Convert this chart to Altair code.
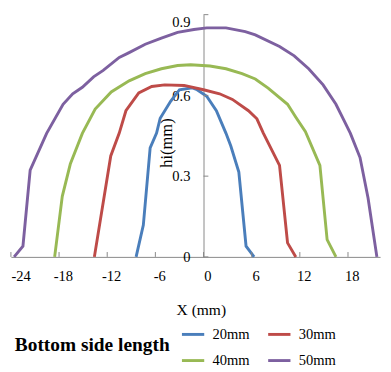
import altair as alt
import pandas as pd

# ---- data ----
series_names = ["20mm", "30mm", "40mm", "50mm"]
series_colors = ["#4A7EBB", "#BE4B48", "#98B954", "#7D60A0"]

x20 = [-8.4, -7.5, -6.65, -5.85, -5.4, -4.1, -3.0, -1.4, -0.8, 0.4, 1.6, 2.8, 3.4, 4.4, 5.3, 6.3]
y20 = [0, 0.118, 0.405, 0.46, 0.515, 0.578, 0.621, 0.628, 0.621, 0.597, 0.543, 0.459, 0.412, 0.315, 0.04, 0]

x30 = [-13.6, -11.56, -10.5, -9.67, -8.07, -6.45, -4.84, -2.42, 0, 2.0, 3.6, 5.6, 6.65, 7.45, 9.47, 10.47, 11.5]
y30 = [0, 0.375, 0.46, 0.543, 0.609, 0.633, 0.639, 0.637, 0.621, 0.606, 0.585, 0.543, 0.513, 0.46, 0.34, 0.052, 0]

x40 = [-18.55, -17.6, -16.6, -15.1, -13.5, -11.5, -9.27, -7.26, -5.25, -3.23, -1.6, 0.8, 2.8, 4.8, 6.45,
       8.05, 10.47, 11.5, 12.7, 14.5, 15.4, 16.5]
y40 = [0, 0.225, 0.345, 0.459, 0.549, 0.613, 0.654, 0.681, 0.699, 0.711, 0.714, 0.709, 0.699, 0.681, 0.661,
       0.627, 0.567, 0.519, 0.465, 0.34, 0.064, 0]

x50 = [-23.6, -22.5, -21.6, -19.55, -17.5, -16.3, -15.1, -13.7, -12.5, -10.5, -9.27, -7.26, -5.25, -3.23, -1.2,
       0.4, 2.8, 5.2, 6.45, 9.47, 11.3, 13.1, 14.9, 16.5, 17.5, 18.3, 19.5, 20.5, 21.6]
y50 = [0, 0.04, 0.322, 0.459, 0.567, 0.606, 0.63, 0.669, 0.693, 0.741, 0.759, 0.79, 0.813, 0.834, 0.845,
       0.851, 0.851, 0.837, 0.825, 0.782, 0.747, 0.699, 0.639, 0.567, 0.507, 0.459, 0.369, 0.219, 0]

x_ticks = [-24, -18, -12, -6, 0, 6, 12, 18]
y_ticks = [0, 0.3, 0.6, 0.9]
x_domain = [-24, 22]
y_domain = [0, 0.9]

rows = []
for name, xs, ys in zip(series_names, [x20, x30, x40, x50], [y20, y30, y40, y50]):
    for i, (a, b) in enumerate(zip(xs, ys)):
        rows.append({"series": name, "x": a, "h": b, "i": i})
df = pd.DataFrame(rows)

# ---- layout / style ----
W, H = 381, 250
FONT = "Liberation Serif, Times New Roman, serif"
GRAY = "#868686"
px_per_unit = W / (x_domain[1] - x_domain[0])

xscale = alt.Scale(domain=x_domain, nice=False, zero=False)
yscale = alt.Scale(domain=y_domain, nice=False, zero=False)

xaxis = alt.Axis(
    values=x_ticks, title="X (mm)", grid=False, ticks=False, tickSize=0,
    domainColor=GRAY, domainWidth=1,
    labelFont=FONT, labelFontSize=15, labelColor="black", labelPadding=12,
    labelFlush=True, labelExpr="'' + datum.value",
    labelOffset={"condition": {"test": "datum.value == -24", "value": 0}, "value": 4},
    titleFont=FONT, titleFontSize=16, titleFontWeight="normal", titleColor="black",
    titleX=196, titleY=59, titleBaseline="alphabetic", titleAlign="center",
)
yaxis = alt.Axis(
    values=y_ticks, title="hi(mm)", grid=False, ticks=False, tickSize=0,
    offset=-(0 - x_domain[0]) * px_per_unit,
    domainColor=GRAY, domainWidth=1,
    labelFont=FONT, labelFontSize=15, labelColor="black", labelPadding=14,
    labelExpr="'' + datum.value",
    labelBaseline={"condition": {"test": "datum.value >= 0.9", "value": "top"}, "value": "middle"},
    titleFont=FONT, titleFontSize=17, titleFontWeight="normal", titleColor="black",
    titleAngle=270, titleX=-33, titleY=132, titleBaseline="alphabetic", titleAlign="center",
)

lines = alt.Chart(df).mark_line(strokeWidth=3).encode(
    x=alt.X("x:Q", scale=xscale, axis=xaxis),
    y=alt.Y("h:Q", scale=yscale, axis=yaxis),
    order="i:Q",
    color=alt.Color(
        "series:N",
        scale=alt.Scale(domain=series_names, range=series_colors),
        legend=alt.Legend(
            title="Bottom side length", orient="none", legendX=4, legendY=317,
            direction="horizontal", columns=2,
            titleOrient="left", titleAnchor="middle", titleBaseline="middle",
            titleFont=FONT, titleFontSize=20, titleFontWeight="bold", titleColor="black",
            titlePadding=11,
            labelFont=FONT, labelFontSize=15, labelColor="black", labelOffset=7,
            symbolType="stroke", symbolSize=529, symbolStrokeWidth=3,
            columnPadding=12, rowPadding=6,
        ),
    ),
)

xt = alt.Chart(pd.DataFrame({"t": x_ticks})).mark_rule(color=GRAY, strokeWidth=1).encode(
    x=alt.X("t:Q", scale=xscale, axis=xaxis),
    y=alt.value(H),
    y2=alt.value(H - 5),
)

yt = alt.Chart(pd.DataFrame({"t": y_ticks})).mark_rule(color=GRAY, strokeWidth=1, x2Offset=5).encode(
    y=alt.Y("t:Q", scale=yscale, axis=yaxis),
    x=alt.X(datum=0, scale=xscale, axis=xaxis),
    x2=alt.X2(datum=0),
)

chart = alt.layer(lines, xt, yt).properties(
    width=W, height=H, padding=0
).configure_view(strokeWidth=0)

chart.save("out.html", embed_options={"renderer": "svg", "actions": False})
